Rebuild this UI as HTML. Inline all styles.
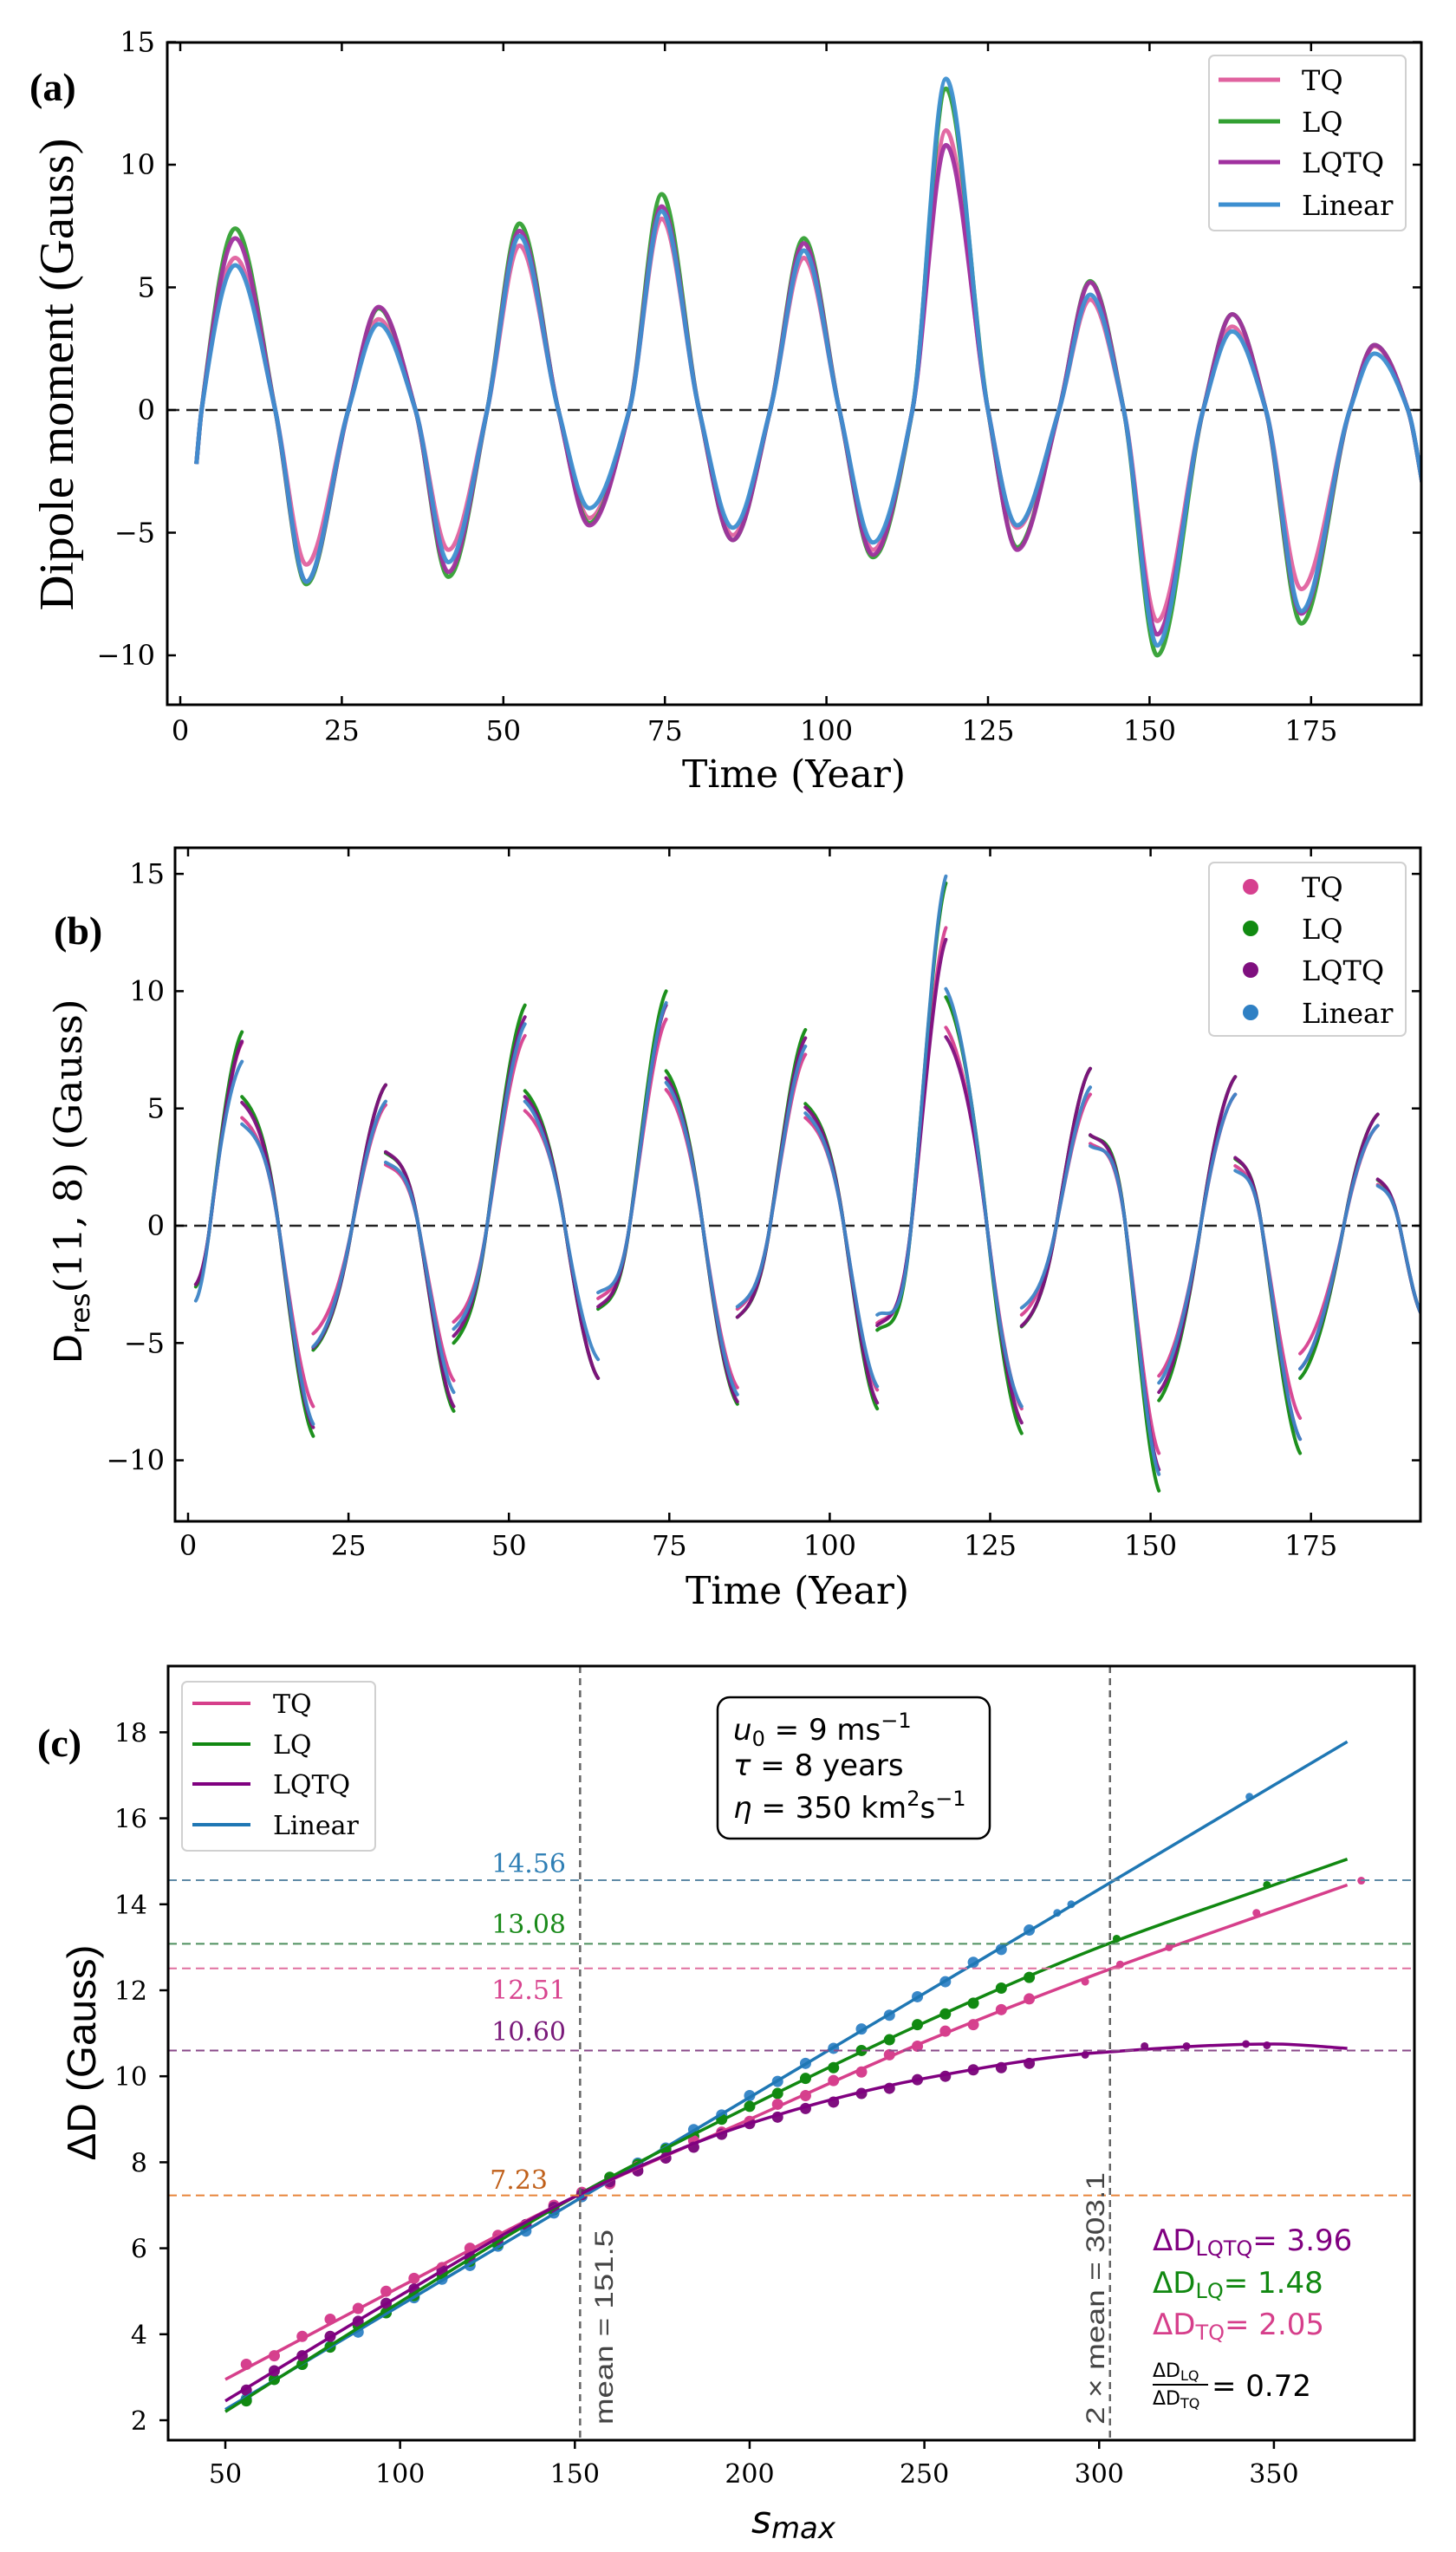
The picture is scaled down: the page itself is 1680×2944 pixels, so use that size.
<!DOCTYPE html>
<html><head><meta charset="utf-8"><title>Dipole moment figure</title>
<style>html,body{margin:0;padding:0;background:#fff}svg{display:block}</style></head>
<body>
<svg id="fig" xmlns="http://www.w3.org/2000/svg" width="1680" height="2944" viewBox="0 0 1680 2944">
<defs>
<clipPath id="clipA"><rect x="193" y="49" width="1447" height="764"/></clipPath>
<clipPath id="clipB"><rect x="202" y="978" width="1437" height="777"/></clipPath>
<clipPath id="clipC"><rect x="194" y="1922" width="1438" height="893"/></clipPath>
</defs>
<rect x="0" y="0" width="1680" height="2944" fill="#fff"/>

<!-- Panel A -->
<g id="panelA">
<text x="34" y="116" font-family="Liberation Serif, serif" font-weight="bold" font-size="46">(a)</text>
<text transform="translate(84,432) rotate(-90)" text-anchor="middle" font-family="Liberation Serif, serif" font-size="56" textLength="545" lengthAdjust="spacingAndGlyphs">Dipole moment (Gauss)</text>
<text x="916" y="908" text-anchor="middle" font-family="DejaVu Serif, serif" font-size="44">Time (Year)</text>
<g id="plotA" clip-path="url(#clipA)"></g>
<g id="ticksA"></g>
<rect x="193" y="49" width="1447" height="764" fill="none" stroke="#000" stroke-width="3"/>
<g>
<rect x="1395" y="64" width="227" height="202" rx="6" fill="#fff" fill-opacity="0.85" stroke="#d0d0d0" stroke-width="2"/>
<line x1="1406" y1="92" x2="1477" y2="92" stroke="#e0629f" stroke-width="5"/>
<text x="1502" y="104" font-family="DejaVu Serif, serif" font-size="32">TQ</text>
<line x1="1406" y1="140" x2="1477" y2="140" stroke="#33a033" stroke-width="5"/>
<text x="1502" y="152" font-family="DejaVu Serif, serif" font-size="32">LQ</text>
<line x1="1406" y1="187" x2="1477" y2="187" stroke="#a0309f" stroke-width="5"/>
<text x="1502" y="199" font-family="DejaVu Serif, serif" font-size="32">LQTQ</text>
<line x1="1406" y1="236" x2="1477" y2="236" stroke="#3d8fd0" stroke-width="5"/>
<text x="1502" y="248" font-family="DejaVu Serif, serif" font-size="32">Linear</text>
</g>
</g>

<!-- Panel B -->
<g id="panelB">
<text x="62" y="1089" font-family="Liberation Serif, serif" font-weight="bold" font-size="46">(b)</text>
<text transform="translate(94,1363) rotate(-90)" text-anchor="middle" font-family="DejaVu Serif, serif" font-size="44" textLength="421" lengthAdjust="spacingAndGlyphs"><tspan font-family="DejaVu Sans, sans-serif">D</tspan><tspan font-family="DejaVu Sans, sans-serif" font-size="30" dy="9">res</tspan><tspan dy="-9">(11, 8) (Gauss)</tspan></text>
<text x="920" y="1850" text-anchor="middle" font-family="DejaVu Serif, serif" font-size="44">Time (Year)</text>
<g id="plotB" clip-path="url(#clipB)"></g>
<g id="ticksB"></g>
<rect x="202" y="978" width="1437" height="777" fill="none" stroke="#000" stroke-width="3"/>
<g>
<rect x="1395" y="995" width="227" height="200" rx="6" fill="#fff" fill-opacity="0.85" stroke="#d0d0d0" stroke-width="2"/>
<circle cx="1443" cy="1023" r="9" fill="#d6408f"/>
<text x="1502" y="1035" font-family="DejaVu Serif, serif" font-size="32">TQ</text>
<circle cx="1443" cy="1071" r="9" fill="#118a11"/>
<text x="1502" y="1083" font-family="DejaVu Serif, serif" font-size="32">LQ</text>
<circle cx="1443" cy="1119" r="9" fill="#7f0f7f"/>
<text x="1502" y="1131" font-family="DejaVu Serif, serif" font-size="32">LQTQ</text>
<circle cx="1443" cy="1168" r="9" fill="#2f80c4"/>
<text x="1502" y="1180" font-family="DejaVu Serif, serif" font-size="32">Linear</text>
</g>
</g>

<!-- Panel C -->
<g id="panelC">
<text x="43" y="2026" font-family="Liberation Serif, serif" font-weight="bold" font-size="46">(c)</text>
<text transform="translate(110,2368) rotate(-90)" text-anchor="middle" font-family="Liberation Sans, sans-serif" font-size="46" textLength="249" lengthAdjust="spacingAndGlyphs">ΔD (Gauss)</text>
<text x="867" y="2922" font-family="DejaVu Sans, sans-serif" font-style="italic" font-size="44">s<tspan font-size="34" dy="6">max</tspan></text>
<g id="plotC" clip-path="url(#clipC)"></g>
<g id="ticksC"></g>
<rect x="194" y="1922" width="1438" height="893" fill="none" stroke="#000" stroke-width="3"/>
<g font-family="DejaVu Serif, serif" font-size="30">
<text x="653" y="2160" text-anchor="end" fill="#2f7fb5">14.56</text>
<text x="653" y="2230" text-anchor="end" fill="#1a8a1a">13.08</text>
<text x="653" y="2306" text-anchor="end" fill="#d8448f">12.51</text>
<text x="653" y="2354" text-anchor="end" fill="#7a1a7a">10.60</text>
<text x="632" y="2525" text-anchor="end" fill="#c0601a">7.23</text>
</g>
<text transform="translate(707,2797) rotate(-90)" font-family="Liberation Sans, sans-serif" font-size="30" fill="#444" textLength="225" lengthAdjust="spacingAndGlyphs">mean = 151.5</text>
<text transform="translate(1274,2797) rotate(-90)" font-family="Liberation Sans, sans-serif" font-size="30" fill="#444" textLength="291" lengthAdjust="spacingAndGlyphs">2 × mean = 303.1</text>
<g>
<rect x="210" y="1940" width="223" height="195" rx="6" fill="#fff" fill-opacity="0.85" stroke="#d0d0d0" stroke-width="2"/>
<line x1="222" y1="1965" x2="289" y2="1965" stroke="#d63f8b" stroke-width="4"/>
<text x="315" y="1976" font-family="DejaVu Serif, serif" font-size="30">TQ</text>
<line x1="222" y1="2012" x2="289" y2="2012" stroke="#118811" stroke-width="4"/>
<text x="315" y="2023" font-family="DejaVu Serif, serif" font-size="30">LQ</text>
<line x1="222" y1="2058" x2="289" y2="2058" stroke="#800080" stroke-width="4"/>
<text x="315" y="2069" font-family="DejaVu Serif, serif" font-size="30">LQTQ</text>
<line x1="222" y1="2105" x2="289" y2="2105" stroke="#1f77b4" stroke-width="4"/>
<text x="315" y="2116" font-family="DejaVu Serif, serif" font-size="30">Linear</text>
</g>
<g>
<rect x="828" y="1958" width="314" height="163" rx="14" fill="#fff" stroke="#000" stroke-width="2.5"/>
<text x="846" y="2007" font-family="DejaVu Sans, sans-serif" font-size="34"><tspan font-style="italic">u</tspan><tspan font-size="24" dy="7">0</tspan><tspan dy="-7"> = 9 ms</tspan><tspan font-size="24" dy="-14">−1</tspan></text>
<text x="846" y="2048" font-family="DejaVu Sans, sans-serif" font-size="34"><tspan font-style="italic">τ</tspan> = 8 years</text>
<text x="846" y="2097" font-family="DejaVu Sans, sans-serif" font-size="34"><tspan font-style="italic">η</tspan> = 350 km<tspan font-size="24" dy="-14">2</tspan><tspan dy="14">s</tspan><tspan font-size="24" dy="-14">−1</tspan></text>
</g>
<g font-family="DejaVu Sans, sans-serif" font-size="34">
<text x="1330" y="2596" fill="#800080">ΔD<tspan font-size="24" dy="6">LQTQ</tspan><tspan dy="-6">= 3.96</tspan></text>
<text x="1330" y="2645" fill="#118811">ΔD<tspan font-size="24" dy="6">LQ</tspan><tspan dy="-6">= 1.48</tspan></text>
<text x="1330" y="2693" fill="#d63f8b">ΔD<tspan font-size="24" dy="6">TQ</tspan><tspan dy="-6">= 2.05</tspan></text>
<text x="1330" y="2742" font-size="22">ΔD<tspan font-size="16" dy="4">LQ</tspan></text>
<line x1="1330" y1="2751" x2="1394" y2="2751" stroke="#000" stroke-width="2"/>
<text x="1330" y="2774" font-size="22">ΔD<tspan font-size="16" dy="4">TQ</tspan></text>
<text x="1398" y="2764">= 0.72</text>
</g>
</g>
</svg>
<script>
const NS = "http://www.w3.org/2000/svg";
function mk(tag, attrs, parent){const e=document.createElementNS(NS,tag);for(const k in attrs)e.setAttribute(k,attrs[k]);parent.appendChild(e);return e;}

/* ---------- Panel (a) data ---------- */
const seriesNames = ["TQ","LQ","LQTQ","Linear"];
const aExtremaT = [8.5,19.5,30.7,41.5,52.5,63.3,74.5,85.5,96.5,107.2,118.5,129.5,140.8,151.2,162.8,173.5,184.8];
const aZerosT = [3.3,14.7,26,36.4,47.5,58.5,69.5,80.3,91.3,102,113.3,125,136,146,158.3,168,181,190];
const aTQ = [6.2,-6.3,3.7,-5.7,6.7,-4.4,7.8,-5.1,6.2,-5.7,11.4,-4.8,4.5,-8.6,3.4,-7.3,2.6];
const aLQ = [7.4,-7.1,4.15,-6.8,7.6,-4.6,8.8,-5.3,7.0,-6.0,13.1,-5.6,5.25,-10.0,3.9,-8.7,2.65];
const aLQTQ = [7.0,-7.0,4.2,-6.6,7.3,-4.7,8.3,-5.3,6.8,-5.9,10.8,-5.7,5.2,-9.15,3.9,-8.3,2.65];
const aLinear = [5.9,-7.0,3.5,-6.2,7.1,-4.0,8.1,-4.8,6.5,-5.4,13.5,-4.7,4.7,-9.6,3.2,-8.2,2.3];
const aStart = [2.5,-2.2];
const aEnd = [192.5,-3.4];
const aXTicks = [0,25,50,75,100,125,150,175];
const aYTicks = [-10,-5,0,5,10,15];

/* ---------- Panel (b) data ---------- */
const bSegStart = [1.2,8.4,19.5,30.8,41.4,52.5,63.9,74.5,85.6,96.2,107.4,118.1,129.9,140.6,151.3,163.2,173.3,185.4];
const bSegEnd = [8.4,19.5,30.8,41.4,52.5,63.9,74.5,85.6,96.2,107.4,118.1,129.9,140.6,151.3,163.2,173.3,185.4,192.5];
const bSegZero = [3.4,14.1,25.6,35.9,46.6,58.7,68.8,80.2,90.7,102.2,112.7,124.5,135.3,146.1,157.8,167.3,180.1,188.8];
const bTQstart = [-2.5,4.6,-4.6,2.6,-4.1,4.9,-3.1,5.8,-3.55,4.6,-4.15,8.45,-3.8,3.5,-6.4,2.55,-5.45,1.75];
const bTQend = [7.8,-7.7,5.15,-6.6,8.1,-6.5,8.8,-6.9,7.3,-7.0,12.7,-7.8,5.6,-9.7,5.6,-8.2,4.27,-3.9];
const bLQstart = [-2.6,5.5,-5.3,3.1,-5.0,5.75,-3.55,6.6,-3.9,5.2,-4.45,9.75,-4.3,3.85,-7.45,2.85,-6.5,1.95];
const bLQend = [8.26,-8.97,6.0,-7.9,9.4,-6.5,10.0,-7.6,8.35,-7.8,14.6,-8.85,6.7,-11.3,6.35,-9.7,4.75,-3.9];
const bLQTQstart = [-2.5,5.25,-5.2,3.15,-4.7,5.5,-3.45,6.3,-3.9,5.05,-4.25,8.05,-4.27,3.87,-7.1,2.9,-6.1,1.98];
const bLQTQend = [7.86,-8.6,6.0,-7.7,8.9,-6.5,9.4,-7.5,8.0,-7.55,12.2,-8.4,6.7,-10.4,6.35,-9.1,4.75,-3.9];
const bLinearStart = [-3.2,4.33,-5.15,2.7,-4.4,5.3,-2.85,6.1,-3.45,4.8,-3.8,10.1,-3.5,3.4,-6.7,2.35,-6.1,1.7];
const bLinearEnd = [7.0,-8.45,5.3,-7.1,8.6,-5.7,9.5,-7.2,7.65,-6.85,14.9,-7.7,5.9,-10.6,5.6,-9.1,4.27,-3.9];
const bXTicks = [0,25,50,75,100,125,150,175];
const bYTicks = [-10,-5,0,5,10,15];

/* ---------- Panel (c) data ---------- */
const cGridS = [56,64,72,80,88,96,104,112,120,128,136,144,152,160,168,176,184,192,200,208,216,224,232,240,248,256,264,272,280];
const cTQ = [3.3,3.5,3.95,4.35,4.6,5.0,5.3,5.55,6.0,6.3,6.55,7.0,7.3,7.5,7.9,8.1,8.5,8.7,8.95,9.35,9.55,9.9,10.1,10.5,10.7,11.05,11.2,11.55,11.8];
const cLQ = [2.45,2.95,3.3,3.7,4.2,4.5,4.9,5.4,5.7,6.1,6.55,6.9,7.25,7.65,7.95,8.3,8.6,9.0,9.3,9.6,9.95,10.2,10.6,10.85,11.2,11.45,11.7,12.05,12.3];
const cLQTQ = [2.7,3.15,3.5,3.95,4.3,4.72,5.05,5.48,5.8,6.2,6.55,6.95,7.25,7.55,7.8,8.1,8.35,8.65,8.9,9.05,9.25,9.4,9.6,9.72,9.92,10.0,10.15,10.2,10.3];
const cLinear = [2.5,2.95,3.3,3.72,4.05,4.5,4.85,5.28,5.6,6.05,6.4,6.82,7.2,7.55,7.98,8.33,8.76,9.1,9.55,9.88,10.3,10.65,11.1,11.42,11.85,12.2,12.65,12.95,13.4];
const cTQextraS = [296,306,320,345,375];
const cTQextraV = [12.2,12.6,13.0,13.8,14.55];
const cLQextraS = [305,348];
const cLQextraV = [13.2,14.45];
const cLQTQextraS = [296,313,325,342,348];
const cLQTQextraV = [10.5,10.7,10.7,10.75,10.72];
const cLinearExtraS = [288,292,343];
const cLinearExtraV = [13.8,14.0,16.5];
const cFitS = [50,100,150,200,250,300,350,371];
const cFitTQ = [2.95,5.1,7.2,9.0,10.8,12.4,13.85,14.45];
const cFitLQ = [2.2,4.75,7.2,9.3,11.25,13.0,14.45,15.05];
const cFitLQTQ = [2.45,4.9,7.2,8.9,9.95,10.55,10.75,10.65];
const cFitLinear = [2.25,4.67,7.09,9.51,11.93,14.35,16.77,17.78];
const cHLines = [14.56,13.08,12.51,10.60,7.23];
const cVLines = [151.5,303.1];
const cXTicks = [50,100,150,200,250,300,350];
const cYTicks = [2,4,6,8,10,12,14,16,18];

/* ---------- scales ---------- */
const axA = {x:t=>208+t*7.456, y:v=>473-v*28.3, l:193,r:1640,t:49,b:813};
const axB = {x:t=>217+t*7.404, y:v=>1414-v*27.06, l:202,r:1639,t:978,b:1755};
const axC = {x:s=>260+(s-50)*4.033, y:v=>2792-(v-2)*49.6, l:194,r:1632,t:1922,b:2815};

function monoPath(px){
  const n=px.length; const dx=[],sl=[];
  for(let i=0;i<n-1;i++){dx.push(px[i+1][0]-px[i][0]);sl.push((px[i+1][1]-px[i][1])/dx[i]);}
  const m=[sl[0]];
  for(let i=1;i<n-1;i++){
    if(sl[i-1]*sl[i]<=0) m.push(0);
    else m.push(3*(dx[i-1]+dx[i])/((2*dx[i]+dx[i-1])/sl[i-1]+(dx[i]+2*dx[i-1])/sl[i]));
  }
  m.push(sl[n-2]);
  let d="M"+px[0][0].toFixed(1)+","+px[0][1].toFixed(1);
  for(let i=0;i<n-1;i++){
    const h=dx[i]/3;
    d+="C"+(px[i][0]+h).toFixed(1)+","+(px[i][1]+m[i]*h).toFixed(1)+" "+(px[i+1][0]-h).toFixed(1)+","+(px[i+1][1]-m[i+1]*h).toFixed(1)+" "+px[i+1][0].toFixed(1)+","+px[i+1][1].toFixed(1);
  }
  return d;
}

function ticks(ax, g, xt, yt, inward, allSides, fs, yLabelX, xLabelY){
  const L=10, dir=inward?-1:1;
  xt.forEach(v=>{
    const x=ax.x(v);
    const tk=mk("line",{x1:x,y1:ax.b,x2:x,y2:ax.b+dir*L,stroke:"#000","stroke-width":2.5},g);
    
    
    if(allSides){
      const tt=mk("line",{x1:x,y1:ax.t,x2:x,y2:ax.t-dir*L,stroke:"#000","stroke-width":2.5},g);
      
      
    }
    const tl=mk("text",{x:x,y:xLabelY,"text-anchor":"middle","font-family":"DejaVu Serif, serif","font-size":fs},g);
    tl.textContent=String(v).replace("-","\u2212");
    
    
  });
  yt.forEach(v=>{
    const y=ax.y(v);
    const tk=mk("line",{x1:ax.l,y1:y,x2:ax.l-dir*L,y2:y,stroke:"#000","stroke-width":2.5},g);
    
    
    if(allSides){
      const tr=mk("line",{x1:ax.r,y1:y,x2:ax.r+dir*L,y2:y,stroke:"#000","stroke-width":2.5},g);
      
      
    }
    const tl=mk("text",{x:yLabelX,y:y+11,"text-anchor":"end","font-family":"DejaVu Serif, serif","font-size":fs},g);
    tl.textContent=String(v).replace("-","\u2212");
    
    
  });
}

/* ---------- draw panel a ---------- */
(function(){
  const g=document.getElementById("plotA");
  const z=mk("line",{x1:axA.l,y1:axA.y(0),x2:axA.r,y2:axA.y(0),stroke:"#222","stroke-width":2.5,"stroke-dasharray":"14 8"},g);
  
  
  const vals=[aTQ,aLQ,aLQTQ,aLinear];
  const cols=["#e0629f","#33a033","#a0309f","#3d8fd0"];
  vals.forEach((arr,k)=>{
    let pts=[[aStart[0],aStart[1]]];
    aExtremaT.forEach((t,i)=>pts.push([t,arr[i]]));
    aZerosT.forEach(t=>pts.push([t,0]));
    pts.push([aEnd[0],aEnd[1]]);
    pts.sort((p,q)=>p[0]-q[0]);
    const px=pts.map(p=>[axA.x(p[0]),axA.y(p[1])]);
    const p=mk("path",{d:monoPath(px),fill:"none",stroke:cols[k],"stroke-width":5,"stroke-linejoin":"round","stroke-opacity":0.95},g);
    
    
  });
  ticks(axA,document.getElementById("ticksA"),aXTicks,aYTicks,true,true,32,179,854);
})();

/* ---------- draw panel b ---------- */
(function(){
  const g=document.getElementById("plotB");
  const z=mk("line",{x1:axB.l,y1:axB.y(0),x2:axB.r,y2:axB.y(0),stroke:"#222","stroke-width":2.5,"stroke-dasharray":"14 8"},g);
  
  
  const starts=[bTQstart,bLQstart,bLQTQstart,bLinearStart];
  const ends=[bTQend,bLQend,bLQTQend,bLinearEnd];
  const cols=["#d6408f","#118a11","#7f0f7f","#3d85c6"];
  function herm(t0,v0,m0,t1,v1,m1){
    const h=(t1-t0)/3;
    return "C"+axB.x(t0+h).toFixed(1)+","+axB.y(v0+m0*h).toFixed(1)+" "+axB.x(t1-h).toFixed(1)+","+axB.y(v1-m1*h).toFixed(1)+" "+axB.x(t1).toFixed(1)+","+axB.y(v1).toFixed(1);
  }
  for(let k=0;k<4;k++){
    let d="";
    for(let i=0;i<bSegStart.length;i++){
      const t0=bSegStart[i],t1=bSegEnd[i],tz=bSegZero[i];
      const v0=starts[k][i],v1=ends[k][i];
      const s1=(0-v0)/(tz-t0), s2=(v1-0)/(t1-tz);
      const mz=1.6*(s1+s2)/2;
      d+="M"+axB.x(t0).toFixed(1)+","+axB.y(v0).toFixed(1);
      d+=herm(t0,v0,0.3*s1,tz,0,mz);
      d+=herm(tz,0,mz,t1,v1,0.3*s2);
    }
    const p=mk("path",{d:d,fill:"none",stroke:cols[k],"stroke-width":4,"stroke-linecap":"round","stroke-opacity":0.95},g);
    
    
  }
  ticks(axB,document.getElementById("ticksB"),bXTicks,bYTicks,true,true,32,190,1794);
})();

/* ---------- draw panel c ---------- */
(function(){
  const g=document.getElementById("plotC");
  const sc=[[cTQ,cTQextraS,cTQextraV],[cLQ,cLQextraS,cLQextraV],[cLQTQ,cLQTQextraS,cLQTQextraV],[cLinear,cLinearExtraS,cLinearExtraV]];
  const dotCols=["#d6408f","#118a11","#7f0f7f","#3a88c8"];
  const fits=[cFitTQ,cFitLQ,cFitLQTQ,cFitLinear];
  const fitCols=["#d63f8b","#118811","#800080","#1f77b4"];
  const order=[3,1,0,2];
  order.forEach(k=>{
    const [v,es,ev]=sc[k];
    cGridS.forEach((s,i)=>{
      const c=mk("circle",{cx:axC.x(s),cy:axC.y(v[i]),r:6.5,fill:dotCols[k]},g);
      
      
    });
    es.forEach((s,i)=>{
      const c=mk("circle",{cx:axC.x(s),cy:axC.y(ev[i]),r:4.5,fill:dotCols[k]},g);
      
      
    });
  });
  order.forEach(k=>{
    const px=cFitS.map((s,i)=>[axC.x(s),axC.y(fits[k][i])]);
    const p=mk("path",{d:monoPath(px),fill:"none",stroke:fitCols[k],"stroke-width":3.5},g);
    
    
  });
  const hCols=["#5f8aa6","#4e8f5e","#e0709f","#8a4a8a","#e8843a"];
  cHLines.forEach((v,i)=>{
    const l=mk("line",{x1:axC.l,y1:axC.y(v),x2:axC.r,y2:axC.y(v),stroke:hCols[i],"stroke-width":2,"stroke-dasharray":"10 6"},g);
    
    
  });
  cVLines.forEach(s=>{
    const l=mk("line",{x1:axC.x(s),y1:axC.t,x2:axC.x(s),y2:axC.b,stroke:"#666","stroke-width":2.5,"stroke-dasharray":"8 6"},g);
    
    
  });
  ticks(axC,document.getElementById("ticksC"),cXTicks,cYTicks,false,false,30,170,2864);
})();
</script>
</body></html>
